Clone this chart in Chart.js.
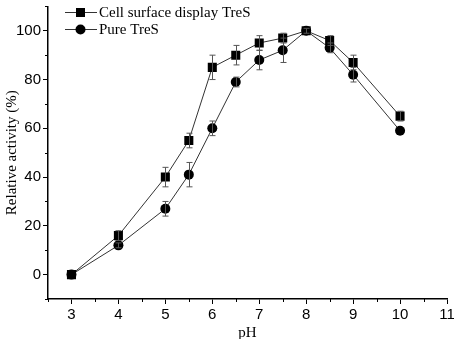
<!DOCTYPE html>
<html>
<head>
<meta charset="utf-8">
<script src="https://cdn.jsdelivr.net/npm/chart.js@4"></script>
<style>
  html, body { margin: 0; padding: 0; background: #fff; }
  #wrap { width: 454px; height: 339px; }
</style>
</head>
<body>
<div id="wrap"><canvas id="phChart" width="454" height="339"></canvas></div>
<script>
const phValues = [3, 4, 5, 5.5, 6, 6.5, 7, 7.5, 8, 8.5, 9, 10];
const surfaceLabel = 'Cell surface display TreS';
const surfaceActivity = [0, 16, 40, 55, 85, 90, 95, 97, 100, 96, 87, 65];
const surfaceError = [0, 2, 4, 3, 5, 4, 3, 2, 1, 2, 3, 2];
const pureLabel = 'Pure TreS';
const pureActivity = [0, 12, 27, 41, 60, 79, 88, 92, 100, 93, 82, 59];
const pureError = [0, 1, 3, 5, 3, 2, 4, 5, 0, 2, 3, 0];

const xTicks = [3, 4, 5, 6, 7, 8, 9, 10, 11];
const xMinorTicks = [2.5, 3.5, 4.5, 5.5, 6.5, 7.5, 8.5, 9.5, 10.5];
const yTicks = [0, 20, 40, 60, 80, 100];
const yMinorTicks = [-10, 10, 30, 50, 70, 90, 110];

const serif = '"Liberation Serif", "Times New Roman", serif';
const sans = '"Liberation Sans", Arial, sans-serif';

function toPoints(values, errors) {
  return phValues.map((x, i) => ({ x: x, y: values[i], err: errors[i] }));
}

// error bars, drawn with the chart's own scales
const errorBars = {
  id: 'errorBars',
  afterDatasetsDraw(chart) {
    const ctx = chart.ctx;
    const xs = chart.scales.x, ys = chart.scales.y;
    ctx.save();
    ctx.strokeStyle = '#555';
    ctx.lineWidth = 1;
    chart.data.datasets.forEach(ds => {
      ds.data.forEach(p => {
        if (!p.err) return;
        const px = Math.round(xs.getPixelForValue(p.x)) + 0.5;
        const top = ys.getPixelForValue(p.y + p.err);
        const bot = ys.getPixelForValue(p.y - p.err);
        ctx.beginPath();
        ctx.moveTo(px, top); ctx.lineTo(px, bot);
        ctx.moveTo(px - 3, top); ctx.lineTo(px + 3, top);
        ctx.moveTo(px - 3, bot); ctx.lineTo(px + 3, bot);
        ctx.stroke();
      });
    });
    ctx.restore();
  }
};

// short minor ticks on both axes
const minorTicks = {
  id: 'minorTicks',
  afterDraw(chart) {
    const ctx = chart.ctx;
    const xs = chart.scales.x, ys = chart.scales.y;
    ctx.save();
    ctx.strokeStyle = '#000';
    ctx.lineWidth = 1;
    ctx.beginPath();
    xMinorTicks.forEach(v => {
      const px = Math.round(xs.getPixelForValue(v)) + 0.5;
      ctx.moveTo(px, xs.top); ctx.lineTo(px, xs.top + 3);
    });
    yMinorTicks.forEach(v => {
      const py = Math.round(ys.getPixelForValue(v)) + 0.5;
      ctx.moveTo(ys.right, py); ctx.lineTo(ys.right - 3, py);
    });
    ctx.stroke();
    ctx.restore();
  }
};

// legend in the top-left corner: line - marker - line, then label
const cornerLegend = {
  id: 'cornerLegend',
  afterDraw(chart) {
    const ctx = chart.ctx;
    ctx.save();
    chart.data.datasets.forEach((ds, i) => {
      const y = 12 + i * 17;
      ctx.strokeStyle = '#333';
      ctx.lineWidth = 1;
      ctx.beginPath();
      ctx.moveTo(65, y + 0.5); ctx.lineTo(97, y + 0.5);
      ctx.stroke();
      ctx.fillStyle = '#000';
      if (ds.pointStyle === 'rect') {
        ctx.fillRect(76, y - 4, 9, 9);
      } else {
        ctx.beginPath();
        ctx.arc(80.5, y + 0.5, 5, 0, Math.PI * 2);
        ctx.fill();
      }
      ctx.font = '15px ' + serif;
      ctx.textBaseline = 'middle';
      ctx.fillText(ds.label, 99, y + 1);
    });
    ctx.restore();
  }
};

new Chart(document.getElementById('phChart'), {
  type: 'line',
  data: {
    datasets: [{
      label: surfaceLabel,
      data: toPoints(surfaceActivity, surfaceError),
      borderColor: '#333',
      borderWidth: 1,
      backgroundColor: '#000',
      pointStyle: 'rect',
      pointRadius: 6.4,
      pointBorderWidth: 0,
      tension: 0
    }, {
      label: pureLabel,
      data: toPoints(pureActivity, pureError),
      borderColor: '#333',
      borderWidth: 1,
      backgroundColor: '#000',
      pointStyle: 'circle',
      pointRadius: 5,
      pointBorderWidth: 0,
      tension: 0
    }]
  },
  options: {
    responsive: false,
    animation: false,
    layout: { padding: { top: -2, right: 7, left: 3, bottom: 0 } },
    plugins: {
      legend: { display: false },
      tooltip: { enabled: false }
    },
    scales: {
      x: {
        type: 'linear',
        min: 2.5,
        max: 11,
        afterBuildTicks: axis => { axis.ticks = xTicks.map(v => ({ value: v })); },
        afterFit: s => { s.height = 40; s.paddingLeft = 0; s.paddingRight = 0; },
        ticks: { color: '#000', font: { family: sans, size: 15 }, padding: 2, maxRotation: 0, autoSkip: false },
        grid: { drawOnChartArea: false, color: '#000', tickLength: 5, tickColor: '#000' },
        border: { color: '#000', width: 1.5 },
        title: { display: true, text: 'pH', color: '#000', font: { family: serif, size: 15 }, padding: { top: 0, bottom: -3 } }
      },
      y: {
        min: -10,
        max: 110,
        afterBuildTicks: axis => { axis.ticks = yTicks.map(v => ({ value: v })); },
        afterFit: s => { s.width = 45; s.paddingTop = 0; s.paddingBottom = 0; },
        ticks: { color: '#000', font: { family: sans, size: 15 }, padding: 2, autoSkip: false },
        grid: { drawOnChartArea: false, color: '#000', tickLength: 5, tickColor: '#000' },
        border: { color: '#000', width: 1.5 },
        title: { display: true, text: 'Relative activity (%)', color: '#000', font: { family: serif, size: 15 }, padding: { top: 0, bottom: 0 } }
      }
    }
  },
  plugins: [errorBars, minorTicks, cornerLegend]
});
</script>
</body>
</html>
